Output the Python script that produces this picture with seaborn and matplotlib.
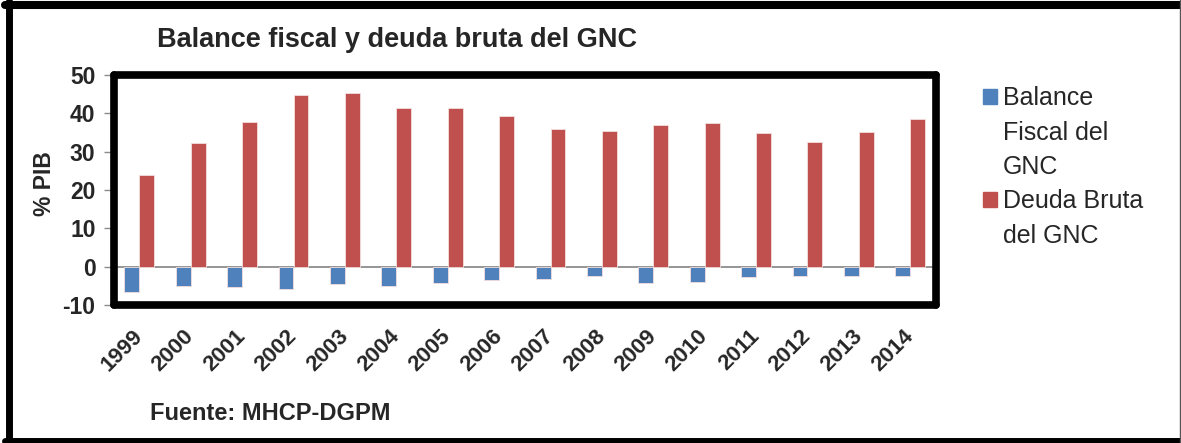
import pandas as pd
import seaborn as sns
import matplotlib.pyplot as plt
from matplotlib.lines import Line2D
from matplotlib.patches import Patch

anios = ['1999', '2000', '2001', '2002', '2003', '2004', '2005', '2006',
         '2007', '2008', '2009', '2010', '2011', '2012', '2013', '2014']
balance_fiscal = [-6.5, -5.0, -5.4, -5.8, -4.6, -5.0, -4.2, -3.5,
                  -3.2, -2.4, -4.2, -3.9, -2.8, -2.4, -2.4, -2.4]
deuda_bruta = [24.0, 32.2, 37.8, 44.9, 45.2, 41.5, 41.5, 39.2,
               36.0, 35.5, 37.0, 37.4, 34.8, 32.5, 35.2, 38.5]
series = ['Balance Fiscal del GNC', 'Deuda Bruta del GNC']
colores = ['#4F81BD', '#C0504D']

df = pd.DataFrame({
    'anio': anios * 2,
    'valor': balance_fiscal + deuda_bruta,
    'serie': [series[0]] * len(anios) + [series[1]] * len(anios),
})

sns.set_style('white')
plt.rcParams['font.family'] = ['Liberation Sans', 'DejaVu Sans']
plt.rcParams['axes.unicode_minus'] = False

W, H = 1181, 443
fig = plt.figure(figsize=(W / 100, H / 100), dpi=100)
ax = fig.add_axes([113.6 / W, 1 - 305 / H, 822.4 / W, 230 / H])

sns.barplot(data=df, x='anio', y='valor', hue='serie', palette=colores,
            saturation=1, width=0.58, gap=0, ax=ax, legend=False,
            edgecolor='#f3dede', linewidth=0.6, zorder=2)

ax.axhline(0, color='#8c8c8c', lw=1.3, zorder=1)
ax.set_xlim(-0.5, 15.5)
ax.set_ylim(-10, 50)
ax.set_yticks(range(-10, 51, 10))
ax.set_xlabel('')
ax.set_ylabel('% PIB', fontsize=16.5, fontweight='bold')
ax.yaxis.set_label_coords((56 - 113.6) / 822.4, (305 - 184) / 230)

for s in ax.spines.values():
    s.set_visible(True)
    s.set_color('black')
    s.set_linewidth(5.5)
    s.set_capstyle('round')

ax.tick_params(axis='y', direction='out', length=7, width=1, color='#8c8c8c',
               left=True, pad=6, labelsize=16.5)
ax.tick_params(axis='x', bottom=False, pad=17, labelsize=16)
for t in ax.get_yticklabels():
    t.set_fontweight('bold')
for t in ax.get_xticklabels():
    t.set_fontweight('bold')
    t.set_rotation(45)
    t.set_ha('right')
    t.set_va('center')
    t.set_rotation_mode('anchor')

fig.text(397 / W, 1 - 40 / H, 'Balance fiscal y deuda bruta del GNC',
         fontsize=19.5, fontweight='bold', ha='center', va='center')
fig.text(150 / W, 1 - 413 / H, 'Fuente: MHCP-DGPM',
         fontsize=17, fontweight='bold', ha='left', va='center')

# leyenda: una linea por fila, cuadro solo en la primera
etiquetas = ['Balance', 'Fiscal del', 'GNC', 'Deuda Bruta', 'del GNC']
manejadores = [Patch(color=colores[0]), Patch(color='none'), Patch(color='none'),
               Patch(color=colores[1]), Patch(color='none')]
fig.legend(manejadores, etiquetas, loc='upper left',
           bbox_to_anchor=(983 / W, 1 - 86 / H), frameon=False,
           fontsize=18, handlelength=0.55, handleheight=0.55,
           handletextpad=0.25, labelspacing=0.42, borderpad=0, borderaxespad=0)

# marco exterior
fig.add_artist(Line2D([8.5 / W, 8.5 / W], [0, 1 - 1 / H], transform=fig.transFigure,
                      color='black', lw=5))
fig.add_artist(Line2D([5 / W, 1], [1 - 5 / H, 1 - 5 / H], transform=fig.transFigure,
                      color='black', lw=5.8))
fig.add_artist(Line2D([5 / W, 1], [1 - 440.5 / H, 1 - 440.5 / H], transform=fig.transFigure,
                      color='black', lw=5))
fig.add_artist(Line2D([1180 / W, 1180 / W], [0, 1], transform=fig.transFigure,
                      color='#555555', lw=1))

fig.savefig('out.png', dpi=100)
